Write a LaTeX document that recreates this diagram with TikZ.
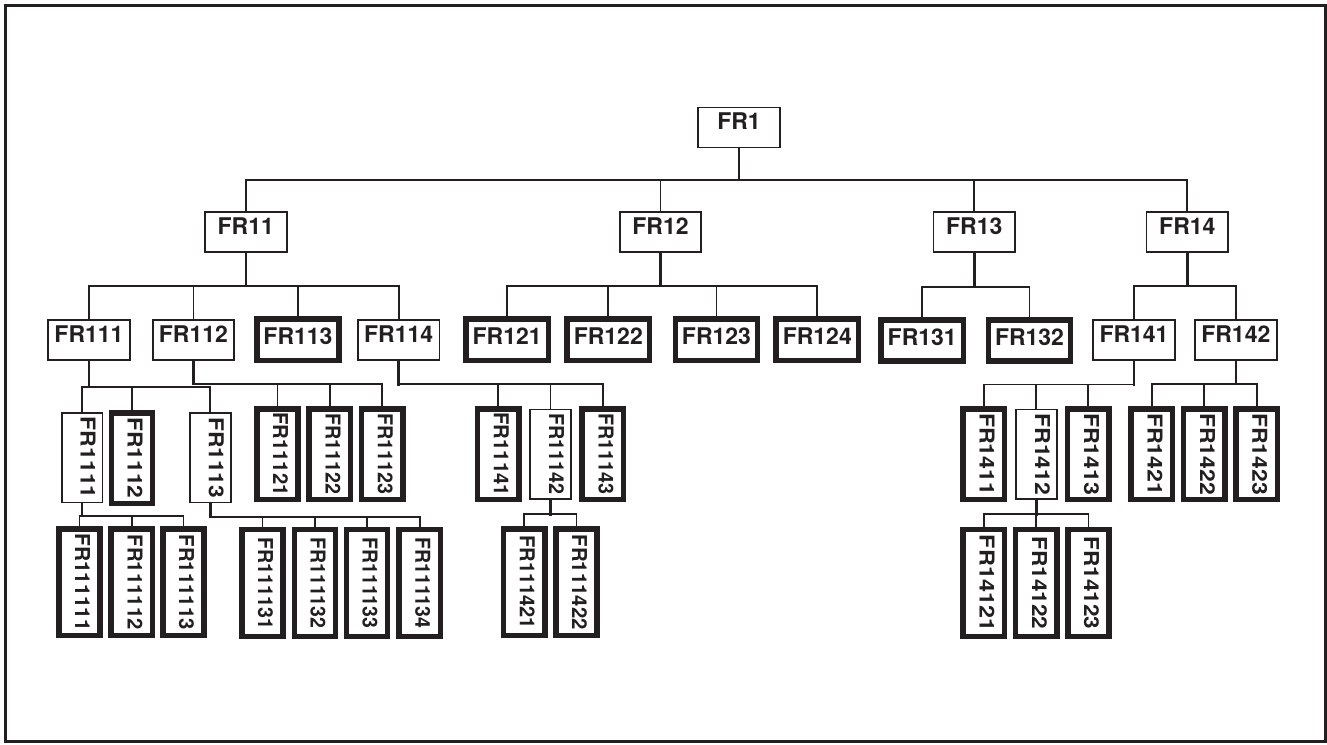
\documentclass[tikz,border=0pt]{standalone}
\usepackage{fontspec}
\usepackage{graphicx}
\setmainfont{TeX Gyre Heros}
\definecolor{inkc}{RGB}{35,31,32}
\newcommand\hfnt{\bfseries\fontsize{23pt}{23pt}\selectfont}
\newcommand\vfnt{\bfseries\fontsize{20.5pt}{20.5pt}\selectfont}
\newcommand\vlab[2]{\scalebox{#1}[1]{#2}}
% parent, parent bottom anchor, bus coordinate, first child, last child, children, child top anchor
\newcommand\fgroup[7]{%
  \draw[stem] (#1.#2) -- (#1.#2 |- #3);
  \draw[conn] (#1.#2 |- #3) -- (#4.#7 |- #3);
  \draw[conn] (#1.#2 |- #3) -- (#5.#7 |- #3);
  \foreach \c in {#6} {\draw[conn] (\c.#7 |- #3) -- (\c.#7);}
}
\tikzset{
  ink/.style={draw=inkc, text=inkc},
  hplain/.style={ink, line width=1.8pt, inner sep=0pt, minimum width=81.6pt,
    text height=22.4pt, text depth=17.6pt, font=\hfnt},
  hthick/.style={ink, line width=5.6pt, inner sep=0pt, minimum width=82.2pt,
    text height=25.2pt, text depth=16.2pt, font=\hfnt},
  vplain/.style={ink, rotate=-90, line width=1.8pt, inner sep=0pt, minimum width=89.5pt,
    text height=21.7pt, text depth=19.1pt, font=\vfnt},
  vthick/.style={ink, rotate=-90, line width=5.5pt, inner sep=0pt, minimum width=90.5pt,
    text height=24.9pt, text depth=16.3pt, font=\vfnt},
  vlong/.style={vthick, minimum width=106.8pt},
  conn/.style={draw=inkc, line width=1.8pt, line cap=rect},
  stem/.style={draw=inkc, line width=2.6pt, line cap=rect},
}
\begin{document}
\begin{tikzpicture}[x=1pt,y=-1pt]
\useasboundingbox (0,0) rectangle (1327,744);
\draw[draw=inkc, line width=3pt] (5,5.5) rectangle (1325.5,741.5);

% level 0 and 1
\node[hplain] (FR1) at (739,127.5) {FR1};
\node[hplain] (FR11) at (245.8,232.3) {FR11};
\node[hplain] (FR12) at (660.5,232.3) {FR12};
\node[hplain] (FR13) at (974.3,232.3) {FR13};
\node[hplain] (FR14) at (1187.3,232.3) {FR14};

% level 2
\node[hplain] (FR111) at (89,340.3) {FR111};
\node[hplain] (FR112) at (193.4,340.3) {FR112};
\node[hthick] (FR113) at (298,339.8) {FR113};
\node[hplain] (FR114) at (398.6,340.3) {FR114};
\node[hthick] (FR121) at (507.2,339.8) {FR121};
\node[hthick] (FR122) at (608.3,339.8) {FR122};
\node[hthick] (FR123) at (716.5,339.8) {FR123};
\node[hthick] (FR124) at (817.3,339.8) {FR124};
\node[hthick] (FR131) at (922.2,340.5) {FR131};
\node[hthick] (FR132) at (1029.5,340.5) {FR132};
\node[hplain] (FR141) at (1134,340.3) {FR141};
\node[hplain] (FR142) at (1235.8,340.3) {FR142};

% level 3
\node[vplain] (FR1111) at (82,457.7) {\vlab{1.12}{FR1111}};
\node[vthick] (FR1112) at (132,458) {\vlab{1.11}{FR1112}};
\node[vplain] (FR1113) at (210.2,457.7) {\vlab{1.11}{FR1113}};
\node[vthick] (FR11121) at (277.5,454) {\vlab{0.99}{FR11121}};
\node[vthick] (FR11122) at (329.8,454) {\vlab{0.96}{FR11122}};
\node[vthick] (FR11123) at (382.2,454) {\vlab{0.96}{FR11123}};
\node[vthick] (FR11141) at (498.2,454.2) {\vlab{0.99}{FR11141}};
\node[vplain] (FR11142) at (550.5,454.2) {\vlab{0.96}{FR11142}};
\node[vthick] (FR11143) at (602.8,454.2) {\vlab{0.96}{FR11143}};
\node[vthick] (FR1411) at (983.8,454.2) {\vlab{1.13}{FR1411}};
\node[vplain] (FR1412) at (1036.3,454.3) {\vlab{1.12}{FR1412}};
\node[vthick] (FR1413) at (1088.3,454.2) {\vlab{1.13}{FR1413}};
\node[vthick] (FR1421) at (1151.8,454.2) {\vlab{1.13}{FR1421}};
\node[vthick] (FR1422) at (1204.3,454.2) {\vlab{1.12}{FR1422}};
\node[vthick] (FR1423) at (1256.7,454.2) {\vlab{1.12}{FR1423}};

% level 4
\node[vlong] (FR111111) at (79.5,582.2) {\vlab{1.02}{FR111111}};
\node[vlong] (FR111112) at (131.8,582.2) {\vlab{0.99}{FR111112}};
\node[vlong] (FR111113) at (183.5,582.2) {\vlab{0.99}{FR111113}};
\node[vlong] (FR111131) at (262.5,583) {\vlab{0.96}{FR111131}};
\node[vlong] (FR111132) at (315,583) {\vlab{0.95}{FR111132}};
\node[vlong] (FR111133) at (367,583) {\vlab{0.95}{FR111133}};
\node[vlong] (FR111134) at (419.7,583) {\vlab{0.95}{FR111134}};
\node[vlong] (FR111421) at (524.2,582.2) {\vlab{0.98}{FR111421}};
\node[vlong] (FR111422) at (576.5,582.2) {\vlab{0.99}{FR111422}};
\node[vlong] (FR14121) at (983.8,583) {\vlab{1.14}{FR14121}};
\node[vlong] (FR14122) at (1036.3,583) {\vlab{1.10}{FR14122}};
\node[vlong] (FR14123) at (1088.5,583) {\vlab{1.10}{FR14123}};

% bus levels
\coordinate (b0) at (0,179.7);
\coordinate (b11) at (0,285.7);
\coordinate (b12) at (0,285.7);
\coordinate (b13) at (0,286.7);
\coordinate (b14) at (0,286);
\coordinate (b111) at (0,386.7);
\coordinate (b112) at (0,384);
\coordinate (b114) at (0,384.3);
\coordinate (b141) at (0,384.5);
\coordinate (b142) at (0,384);
\coordinate (b1111) at (0,516);
\coordinate (b1113) at (0,517);
\coordinate (b11142) at (0,514.3);
\coordinate (b1412) at (0,514.3);

% connectors
\fgroup{FR1}{south}{b0}{FR11}{FR14}{FR11,FR12,FR13,FR14}{north}
\fgroup{FR11}{south}{b11}{FR111}{FR114}{FR111,FR112,FR113,FR114}{north}
\fgroup{FR12}{south}{b12}{FR121}{FR124}{FR121,FR122,FR123,FR124}{north}
\fgroup{FR13}{south}{b13}{FR131}{FR132}{FR131,FR132}{north}
\fgroup{FR14}{south}{b14}{FR141}{FR142}{FR141,FR142}{north}
\fgroup{FR111}{south}{b111}{FR1111}{FR1113}{FR1111,FR1112,FR1113}{west}
\fgroup{FR112}{south}{b112}{FR11121}{FR11123}{FR11121,FR11122,FR11123}{west}
\fgroup{FR114}{south}{b114}{FR11141}{FR11143}{FR11141,FR11142,FR11143}{west}
\fgroup{FR141}{south}{b141}{FR1411}{FR1413}{FR1411,FR1412,FR1413}{west}
\fgroup{FR142}{south}{b142}{FR1421}{FR1423}{FR1421,FR1422,FR1423}{west}
\fgroup{FR1111}{east}{b1111}{FR111111}{FR111113}{FR111111,FR111112,FR111113}{west}
\fgroup{FR1113}{east}{b1113}{FR111131}{FR111134}{FR111131,FR111132,FR111133,FR111134}{west}
\fgroup{FR11142}{east}{b11142}{FR111421}{FR111422}{FR111421,FR111422}{west}
\fgroup{FR1412}{east}{b1412}{FR14121}{FR14123}{FR14121,FR14122,FR14123}{west}
\end{tikzpicture}
\end{document}
